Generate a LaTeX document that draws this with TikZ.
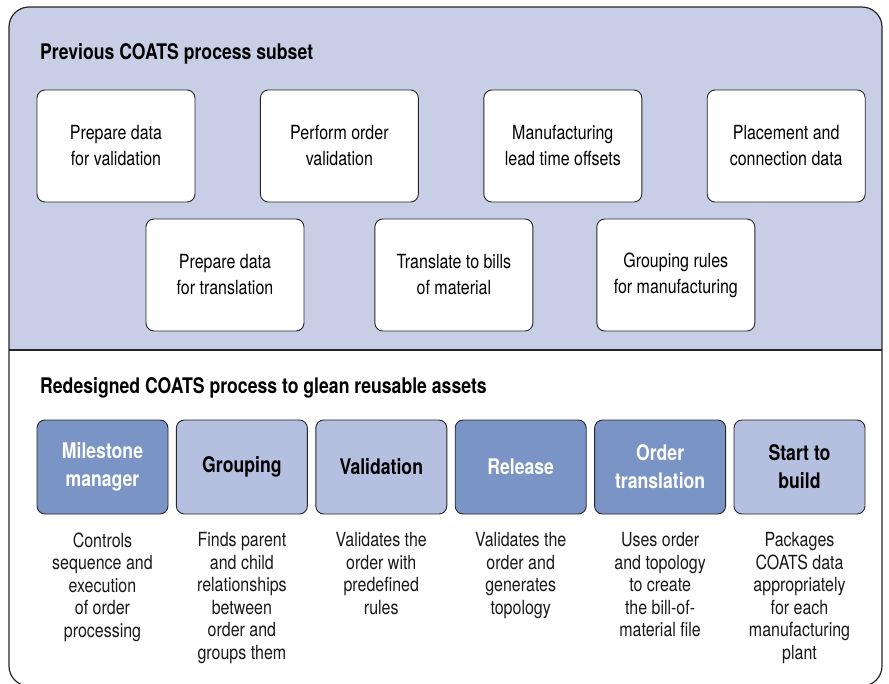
\documentclass[tikz,border=0pt]{standalone}
\usepackage{fontspec}
\setmainfont{TeX Gyre Heros}[FakeStretch=0.82]
\usetikzlibrary{positioning}
\definecolor{paneblue}{RGB}{201,206,231}
\definecolor{stepblue}{RGB}{121,148,197}
\definecolor{softblue}{RGB}{181,191,223}
\definecolor{linegray}{RGB}{38,38,38}
\tikzset{
    oldbox/.style={
        rectangle,
        rounded corners=8pt,
        draw=linegray, % 边框深灰
        fill=white,
        line width=0.9pt,
        minimum width=158pt,
        minimum height=112pt,
        inner sep=0,
        align=center,
        font=\fontsize{19.5}{26}\selectfont
    },
    stepdark/.style={
        rectangle,
        rounded corners=8pt,
        draw=linegray,
        fill=stepblue, % 深蓝填充
        text=white,
        line width=0.9pt,
        minimum width=131pt,
        minimum height=94pt,
        inner sep=0,
        align=center,
        font=\bfseries\fontsize{21.5}{28}\selectfont
    },
    steplight/.style={
        stepdark,
        fill=softblue, % 浅蓝填充
        text=black
    },
    stepnote/.style={
        inner sep=0,
        align=center,
        text=black!90,
        font=\fontsize{19.5}{22.5}\selectfont
    }
}

\begin{document}
\begin{tikzpicture}[
                x=1pt, y=1pt,
                heading/.style={
                    anchor=base west,
                    inner sep=0,
                    font=\bfseries\fontsize{21.5}{26}\selectfont
                }
            ]
            \useasboundingbox (0,0) rectangle (889,-683);
            % 上半部分底色
            \begin{scope}
                \clip[rounded corners=20pt] (9,-7) rectangle (882,-686);
                \fill[paneblue] (9,-7) rectangle (882,-350);
            \end{scope}
            \draw[linegray, line width=1.1pt] (9,-350) -- (882,-350);
            \draw[linegray, line width=1.2pt, rounded corners=20pt] (9,-7) rectangle (882,-686);

            % 旧流程
            \node[heading] (oldtitle) at (40,-59) {Previous COATS process subset};
            \node[oldbox] (prepval) at (116,-146) {Prepare data\\for validation};
            \node[oldbox, right=64.5pt of prepval] (perform) {Perform order\\validation};
            \node[oldbox, right=64.5pt of perform] (leadtime) {Manufacturing\\lead time offsets};
            \node[oldbox, right=64.5pt of leadtime] (placement) {Placement and\\connection data};
            \node[oldbox] (preptrans) at (225,-275) {Prepare data\\for translation};
            \node[oldbox, right=70pt of preptrans] (billmat) {Translate to bills\\of material};
            \node[oldbox, right=63pt of billmat] (grprules) {Grouping rules\\for manufacturing};

            % 新流程
            \node[heading] (newtitle) at (40,-393) {Redesigned COATS process to glean reusable assets};
            \node[stepdark] (milestone) at (102.5,-467) {Milestone\\manager};
            \node[steplight, right=7.5pt of milestone] (grouping) {Grouping};
            \node[steplight, right=7.5pt of grouping] (validation) {Validation};
            \node[stepdark, right=7.5pt of validation] (release) {Release};
            \node[stepdark, right=7.5pt of release] (ordertrans) {Order\\translation};
            \node[steplight, right=7.5pt of ordertrans] (startbuild) {Start to\\build};

            \node[stepnote, below=18pt of milestone] (milestonenote) {Controls\\sequence and\\execution\\of order\\processing};
            \node[stepnote, below=18pt of grouping] (groupingnote) {Finds parent\\and child\\relationships\\between\\order and\\groups them};
            \node[stepnote, below=18pt of validation] (validationnote) {Validates the\\order with\\predefined\\rules};
            \node[stepnote, below=18pt of release] (releasenote) {Validates the\\order and\\generates\\topology};
            \node[stepnote, below=18pt of ordertrans] (ordertransnote) {Uses order\\and topology\\to create\\the bill-of-\\material file};
            \node[stepnote, below=18pt of startbuild] (startbuildnote) {Packages\\COATS data\\appropriately\\for each\\manufacturing\\plant};
            \end{tikzpicture}
\end{document}
